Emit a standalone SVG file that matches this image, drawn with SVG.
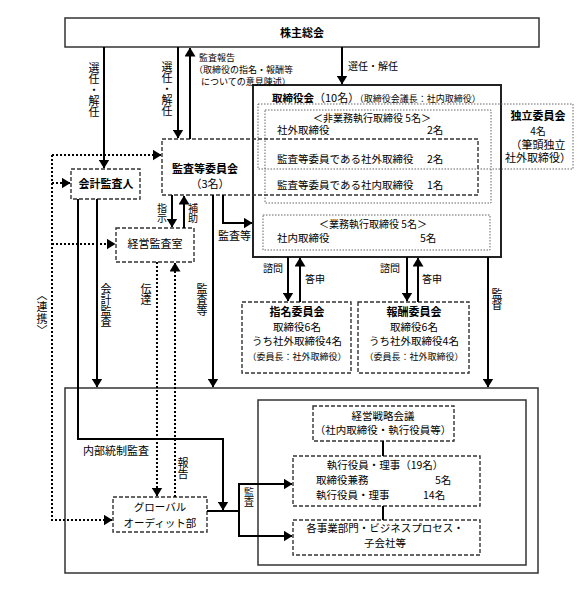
<svg xmlns="http://www.w3.org/2000/svg" width="580" height="591" viewBox="0 0 580 591">
<style>
text{font-family:"Noto Sans CJK JP","Noto Sans CJK SC",sans-serif;fill:#000;font-size:11px}
.b{font-weight:bold}
.c{text-anchor:middle}
.s9{font-size:9px}
.s10{font-size:10px}
.s105{font-size:10.5px}
.v{writing-mode:vertical-rl}
.box{fill:#fff;stroke:#333;stroke-width:1.5}
.box2{fill:#fff;stroke:#222;stroke-width:2}
.dash{fill:none;stroke:#333;stroke-width:1.4;stroke-dasharray:4 2}
.dot{fill:none;stroke:#666;stroke-width:1;stroke-dasharray:1.5 1.5}
.ln{fill:none;stroke:#000;stroke-width:2}
.dl{fill:none;stroke:#000;stroke-width:2;stroke-dasharray:2 2}
</style>
<defs>
<marker id="ah" viewBox="0 0 9 11" refX="8.5" refY="5.5" markerWidth="9" markerHeight="11" markerUnits="userSpaceOnUse" orient="auto">
<path d="M0,0 L9,5.5 L0,11 z" fill="#000"/>
</marker>
</defs>
<rect width="580" height="591" fill="#fff"/>

<g id="company">
<rect class="box" x="65" y="388" width="473" height="185"/>
<rect class="box" x="258" y="400" width="268" height="165"/>
</g>

<g id="shareholders">
<rect class="box" x="65" y="18" width="474" height="29"/>
<text class="b c" x="302" y="37" font-size="12">株主総会</text>
</g>

<g id="board">
<rect class="box2" x="253" y="85" width="248" height="172"/>
<text x="272" y="102"><tspan class="b" font-size="10.5">取締役会</tspan><tspan font-size="11">（10名）</tspan><tspan font-size="9">（取締役会議長：社内取締役）</tspan></text>
</g>

<g id="non-exec">
<rect class="dot" x="265" y="110" width="226" height="93"/>
<text class="c s10" x="372" y="122">＜非業務執行取締役 5名＞</text>
<text class="s105" x="277" y="134">社外取締役</text>
<text class="s105" x="427" y="134">2名</text>
<text class="s105" x="277" y="189">監査等委員である社内取締役</text>
<text class="s105" x="427" y="189">1名</text>
</g>

<g id="independent">
<rect class="dot" x="258" y="104" width="315" height="65"/>
<text class="b c" x="538" y="120" font-size="11">独立委員会</text>
<text class="c s10" x="538" y="135">4名</text>
<text class="c" x="538" y="148.5" font-size="8">（筆頭独立</text>
<text class="c" x="538" y="162" font-size="8">社外取締役）</text>
<text class="s105" x="277" y="163">監査等委員である社外取締役</text>
<text class="s105" x="427" y="163">2名</text>
</g>

<g id="exec">
<rect class="dot" x="263" y="215" width="227" height="35"/>
<text class="c s10" x="373" y="228">＜業務執行取締役 5名＞</text>
<text class="s105" x="277" y="242">社内取締役</text>
<text class="s105" x="420" y="242">5名</text>
</g>

<g id="audit-committee">
<rect class="dash" x="162" y="139" width="316" height="56"/>
<text class="b c" x="205" y="173" font-size="11.5">監査等委員会</text>
<text class="c" x="210" y="188">（3名）</text>
</g>

<g id="accounting-auditor">
<rect class="dash" x="71" y="169" width="69" height="30"/>
<text class="b c" x="106" y="188">会計監査人</text>
</g>

<g id="mgmt-audit">
<rect class="dash" x="116" y="228" width="78" height="34"/>
<text class="c" x="155" y="248">経営監査室</text>
</g>

<g id="nomination">
<rect class="dash" x="242" y="302" width="109" height="71"/>
<text class="b c" x="297" y="316" font-size="10.5">指名委員会</text>
<text class="c s105" x="297" y="331">取締役6名</text>
<text class="c s105" x="297" y="345">うち社外取締役4名</text>
<text class="c s9" x="297" y="360">（委員長：社外取締役）</text>
</g>

<g id="compensation">
<rect class="dash" x="358" y="302" width="111" height="71"/>
<text class="b c" x="414" y="316" font-size="10.5">報酬委員会</text>
<text class="c s105" x="414" y="331">取締役6名</text>
<text class="c s105" x="414" y="345">うち社外取締役4名</text>
<text class="c s9" x="414" y="360">（委員長：社外取締役）</text>
</g>

<g id="strategy">
<rect class="dash" x="313" y="406" width="141" height="35"/>
<text class="c s105" x="383" y="420">経営戦略会議</text>
<text class="c s105" x="383" y="434">（社内取締役・執行役員等）</text>
</g>

<g id="officers">
<rect class="dash" x="293" y="456" width="187" height="50"/>
<text class="c s105" x="385" y="469">執行役員・理事（19名）</text>
<text class="s105" x="316" y="484">取締役兼務</text>
<text class="s105" x="435" y="484">5名</text>
<text class="s105" x="316" y="499">執行役員・理事</text>
<text class="s105" x="423" y="499">14名</text>
</g>

<g id="divisions">
<rect class="dash" x="293" y="520" width="187" height="35"/>
<text class="c s105" x="385" y="532">各事業部門・ビジネスプロセス・</text>
<text class="c s105" x="385" y="547">子会社等</text>
</g>

<g id="global-audit">
<rect class="dash" x="113" y="497" width="94" height="35"/>
<text class="c s105" x="160" y="511">グローバル</text>
<text class="c s105" x="160" y="527">オーディット部</text>
</g>

<g id="connectors">
<path class="ln" d="M104,47 V168" marker-end="url(#ah)"/>
<path class="ln" d="M178,47 V138" marker-end="url(#ah)"/>
<path class="ln" d="M190,139 V48" marker-end="url(#ah)"/>
<path class="ln" d="M342,47 V84" marker-end="url(#ah)"/>
<path class="ln" d="M172,195 V227" marker-end="url(#ah)"/>
<path class="ln" d="M184,228 V196" marker-end="url(#ah)"/>
<path class="ln" d="M223,195 V223 H252" marker-end="url(#ah)"/>
<path class="ln" d="M213,195 V387" marker-end="url(#ah)"/>
<path class="ln" d="M97,199 V387" marker-end="url(#ah)"/>
<path class="ln" d="M78,199 V439 H223 V510" marker-end="url(#ah)"/>
<path class="ln" d="M288,257 V301" marker-end="url(#ah)"/>
<path class="ln" d="M300,302 V258" marker-end="url(#ah)"/>
<path class="ln" d="M407,257 V301" marker-end="url(#ah)"/>
<path class="ln" d="M418,302 V258" marker-end="url(#ah)"/>
<path class="ln" d="M488,257 V387" marker-end="url(#ah)"/>
<path class="ln" d="M207,511 H239"/>
<path class="ln" d="M239,511 V484 H292" marker-end="url(#ah)"/>
<path class="ln" d="M239,511 V536 H292" marker-end="url(#ah)"/>
<path class="ln" d="M383,441 V456"/>
<path class="ln" d="M383,506 V520"/>
<path class="dl" d="M52,155 V520 H112" marker-end="url(#ah)"/>
<path class="dl" d="M52,155 H161" marker-end="url(#ah)"/>
<path class="dl" d="M52,183 H70" marker-end="url(#ah)"/>
<path class="dl" d="M52,244 H115" marker-end="url(#ah)"/>
<path class="dl" d="M157,262 V496" marker-end="url(#ah)"/>
<path class="dl" d="M175,497 V263" marker-end="url(#ah)"/>

<text class="v" x="94" y="62">選任・解任</text>
<text class="v" x="167" y="61">選任・解任</text>
<text class="s10" x="348" y="70">選任・解任</text>
<text class="s9" x="199" y="61">監査報告</text>
<text class="s9" x="194" y="73">（取締役の指名・報酬等</text>
<text class="s9" x="201" y="85">についての意見陳述）</text>
<text class="v s10" x="162" y="203">指示</text>
<text class="v s10" x="193" y="203">補助</text>
<text x="218" y="240">監査等</text>
<text class="v" x="106" y="283">会計監査</text>
<text class="v" x="146" y="283">伝達</text>
<text class="v" x="202" y="283">監査等</text>
<text class="v" x="42" y="289" letter-spacing="1">〈連携〉</text>
<text class="s10" x="263" y="272">諮問</text>
<text class="s10" x="305" y="283">答申</text>
<text class="s10" x="380" y="272">諮問</text>
<text class="s10" x="422" y="283">答申</text>
<text class="v" x="497" y="288">監督</text>
<text x="83" y="455">内部統制監査</text>
<text class="v" x="183" y="457">報告</text>
<text class="v s10" x="249" y="487">監査</text>
</g>
</svg>
